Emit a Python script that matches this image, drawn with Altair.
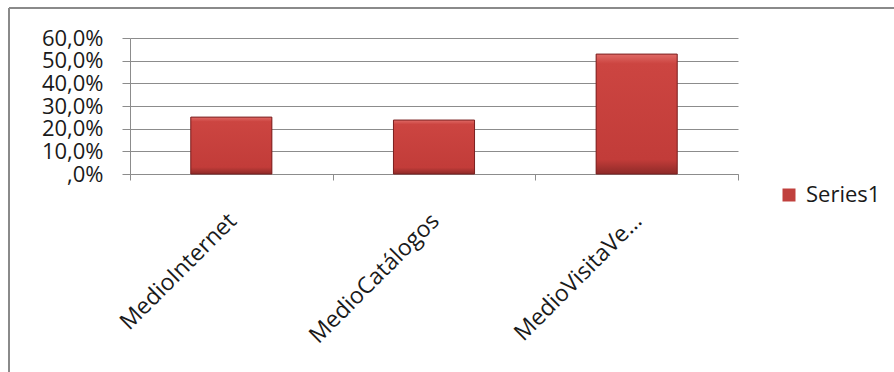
import altair as alt
import pandas as pd

categories = ["MedioInternet", "MedioCatálogos", "MedioVisitaVe…"]
values = [0.251, 0.238, 0.529]
series = ["Series1", "Series1", "Series1"]
y_ticks = [0.0, 0.1, 0.2, 0.3, 0.4, 0.5, 0.6]

df = pd.DataFrame({"cat": categories, "val": values, "series": series})

FONT = "Open Sans"
GRID = "#8c8c8c"
W, H = 608, 136

base = alt.Chart(df)

x_enc = alt.X(
    "cat:N",
    sort=categories,
    title=None,
    scale=alt.Scale(paddingInner=0, paddingOuter=0),
    axis=alt.Axis(
        labelAngle=-45,
        labelAlign="right",
        labelBaseline="middle",
        labelPadding=37,
        labelOffset=1,
        labelFont=FONT,
        labelFontSize=23,
        labelColor="#1a1a1a",
        labelLimit=400,
        labelOverlap=False,
        tickBand="extent",
        tickSize=6,
        tickColor=GRID,
        domainColor=GRID,
        grid=False,
    ),
)
y_enc = alt.Y(
    "val:Q",
    title=None,
    scale=alt.Scale(domain=[0, 0.6], nice=False),
    axis=alt.Axis(
        values=y_ticks,
        labelExpr="datum.value == 0 ? ',0%' : replace(format(datum.value, '.1%'), '.', ',')",
        labelFont=FONT,
        labelFontSize=22,
        labelColor="#1a1a1a",
        labelPadding=19,
        labelBaseline="middle",
        labelOverlap=False,
        labelBound=False,
        labelFlush=False,
        tickSize=8,
        tickColor=GRID,
        domainColor=GRID,
        gridColor=GRID,
        gridWidth=1,
    ),
)

bars = base.mark_bar(width=alt.RelativeBandSize(0.4)).encode(
    x=x_enc,
    y=y_enc,
    color=alt.Color(
        "series:N",
        title=None,
        scale=alt.Scale(range=["#c0403d"]),
        legend=alt.Legend(
            orient="none",
            legendX=648,
            legendY=146,
            padding=0,
            symbolType="square",
            symbolSize=169,
            symbolStrokeWidth=0,
            labelFont=FONT,
            labelFontSize=22,
            labelColor="#1a1a1a",
            labelOffset=6,
        ),
    ),
)

overlay = base.mark_bar(
    width=alt.RelativeBandSize(0.4),
    stroke="#7a2020",
    strokeWidth=1,
    color=alt.Gradient(
        gradient="linear",
        x1=0, x2=0, y1=0, y2=1,
        stops=[
            alt.GradientStop(color="#e06a66", offset=0),
            alt.GradientStop(color="#cc4541", offset=0.08),
            alt.GradientStop(color="#c23c39", offset=0.88),
            alt.GradientStop(color="#8e2a28", offset=1),
        ],
    ),
).encode(x=x_enc, y=y_enc)

frame_top = base.mark_rule(color="#8a8a8a", strokeWidth=2).encode(
    x=alt.value(-121), x2=alt.value(W + 160), y=alt.value(-30)
)
frame_left = base.mark_rule(color="#8a8a8a", strokeWidth=2).encode(
    x=alt.value(-121), y=alt.value(-30), y2=alt.value(H + 200)
)

chart = (
    alt.layer(bars, overlay, frame_top, frame_left)
    .properties(
        width=W,
        height=H,
        autosize=alt.AutoSizeParams(type="none"),
        padding={"left": 130, "top": 38, "right": 156, "bottom": 198},
        background="white",
    )
    .configure_view(stroke=None)
)

chart.save("out.html", embed_options={"renderer": "svg", "actions": False})
